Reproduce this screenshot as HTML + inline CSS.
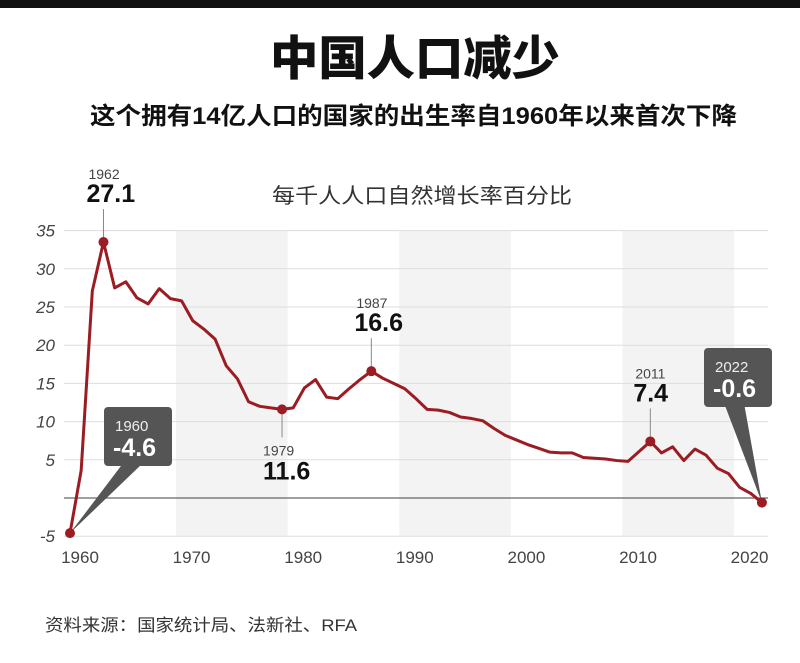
<!DOCTYPE html>
<html><head><meta charset="utf-8">
<style>
body{margin:0;width:800px;height:663px;background:#fff;overflow:hidden;font-family:"Liberation Sans","Noto Sans CJK SC",sans-serif}
</style></head>
<body>
<svg width="800" height="663" style="display:block;font-family:'Liberation Sans','Noto Sans CJK SC',sans-serif">
<rect x="0" y="0" width="800" height="8" fill="#111"/>
<text x="270" y="75" textLength="290" lengthAdjust="spacingAndGlyphs" font-size="47" font-weight="900" fill="#111">中国人口减少</text>
<text x="90" y="124" textLength="647" lengthAdjust="spacingAndGlyphs" font-size="24" font-weight="bold" fill="#111">这个拥有14亿人口的国家的出生率自1960年以来首次下降</text>
<text x="272" y="203" textLength="300" lengthAdjust="spacingAndGlyphs" font-size="21" fill="#333">每千人人口自然增长率百分比</text>
<g id="bands"></g><g id="grid"></g><g id="xt"></g><g id="plot"></g><g id="ann"></g>
<text x="45" y="631" textLength="312" lengthAdjust="spacingAndGlyphs" font-size="17" fill="#333">资料来源：国家统计局、法新社、RFA</text>
</svg>
<script>
const years=[1960,1961,1962,1963,1964,1965,1966,1967,1968,1969,1970,1971,1972,1973,1974,1975,1976,1977,1978,1979,1980,1981,1982,1983,1984,1985,1986,1987,1988,1989,1990,1991,1992,1993,1994,1995,1996,1997,1998,1999,2000,2001,2002,2003,2004,2005,2006,2007,2008,2009,2010,2012,2013,2014,2015,2016,2017,2018,2019,2020,2021,2022];
const values=[-4.6,3.6,27.1,33.5,27.5,28.3,26.2,25.4,27.4,26.1,25.8,23.2,22.1,20.8,17.3,15.6,12.6,12.0,11.8,11.6,11.8,14.4,15.5,13.2,13.0,14.3,15.5,16.6,15.7,15.0,14.3,13.0,11.6,11.5,11.2,10.6,10.4,10.1,9.1,8.2,7.6,7.0,6.5,6.0,5.9,5.9,5.3,5.2,5.1,4.9,4.8,7.4,5.9,6.7,4.9,6.4,5.6,3.9,3.2,1.4,0.6,-0.6];
const yTicks=[35,30,25,20,15,10,5,-5];
const xTicks=[1960,1970,1980,1990,2000,2010,2020];
const bandStarts=[1970,1990,2010];
const plainNotes=[{year:1963,label:"1962",val:"27.1",pos:"above"},{year:1979,label:"1979",val:"11.6",pos:"below"},{year:1987,label:"1987",val:"16.6",pos:"above"},{year:2012,label:"2011",val:"7.4",pos:"above"}];
const boxNotes=[{year:1960,label:"1960",val:"-4.6",bx:104,by:407},{year:2022,label:"2022",val:"-0.6",bx:704,by:348}];
const X=y=>70+(y-1960)*11.16;
const Y=v=>498-v*7.64;
const NS="http://www.w3.org/2000/svg";
function mk(p,t,a){const e=document.createElementNS(NS,t);for(const k in a)e.setAttribute(k,a[k]);p.appendChild(e);return e;}
const bands=document.getElementById('bands'),grid=document.getElementById('grid'),xt=document.getElementById('xt'),plot=document.getElementById('plot'),ann=document.getElementById('ann');
bandStarts.forEach(b=>{const r=mk(bands,'rect',{x:X(b-0.5),y:231,width:11.16*10,height:305,fill:'#f3f3f3'});

});
yTicks.forEach(t=>{const l=mk(grid,'line',{x1:64,x2:768,y1:Y(t),y2:Y(t),stroke:'#ddd','stroke-width':1});


const tx=mk(grid,'text',{x:55,y:Y(t)+6,'text-anchor':'end','font-size':17,'font-style':'italic',fill:'#444'});tx.textContent=t;

});
const z=mk(grid,'line',{x1:64,x2:768,y1:Y(0),y2:Y(0),stroke:'#666','stroke-width':1.2});


xTicks.forEach(t=>{const tx=mk(xt,'text',{x:X(t)+10,y:563,'text-anchor':'middle','font-size':17,fill:'#444'});tx.textContent=t;

});
const pl=mk(plot,'polyline',{points:years.map((y,i)=>X(y)+','+Y(values[i])).join(' '),fill:'none',stroke:'#9b1c22','stroke-width':3,'stroke-linejoin':'round'});


function val(y){return values[years.indexOf(y)];}
plainNotes.forEach(n=>{const x=X(n.year),y=Y(val(n.year));
const g=mk(ann,'g',{});

const tx=n.pos==="above"?x-15:x-19;
if(n.pos==="above"){mk(g,'line',{x1:x,x2:x,y1:y-33,y2:y,stroke:'#888'});
const a=mk(g,'text',{x:tx,y:y-63,'font-size':14,fill:'#444'});a.textContent=n.label;
const b=mk(g,'text',{x:tx-2,y:y-40,'font-size':25,'font-weight':'bold',fill:'#111'});b.textContent=n.val;}
else{mk(g,'line',{x1:x,x2:x,y1:y,y2:y+28,stroke:'#888'});
const a=mk(g,'text',{x:tx,y:y+46,'font-size':14,fill:'#444'});a.textContent=n.label;
const b=mk(g,'text',{x:tx,y:y+70,'font-size':25,'font-weight':'bold',fill:'#111'});b.textContent=n.val;}
const c=mk(g,'circle',{cx:x,cy:y,r:5,fill:'#9b1c22'});

});
boxNotes.forEach(n=>{const x=X(n.year),y=Y(val(n.year));
const g=mk(ann,'g',{});

mk(g,'polygon',{points:`${n.bx+20},${n.by+55} ${n.bx+40},${n.by+55} ${x},${y}`,fill:'#555'});
mk(g,'rect',{x:n.bx,y:n.by,width:68,height:59,rx:4,fill:'#555'});
const a=mk(g,'text',{x:n.bx+11,y:n.by+24,'font-size':15,fill:'#eee'});a.textContent=n.label;
const b=mk(g,'text',{x:n.bx+9,y:n.by+49,'font-size':25,'font-weight':'bold',fill:'#fff'});b.textContent=n.val;
const c=mk(g,'circle',{cx:x,cy:y,r:5,fill:'#9b1c22'});

});
</script>
</body></html>
